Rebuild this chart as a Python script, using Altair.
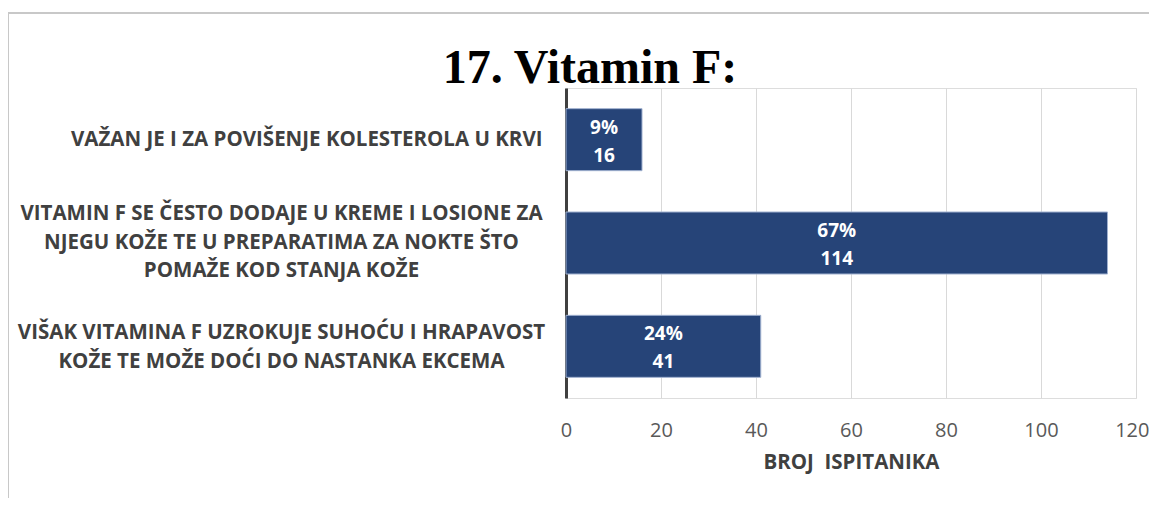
import altair as alt
import pandas as pd

categories = [
    "VAŽAN JE I ZA POVIŠENJE KOLESTEROLA U KRVI",
    "VITAMIN F SE ČESTO DODAJE U KREME I LOSIONE ZA|NJEGU KOŽE TE U PREPARATIMA ZA NOKTE ŠTO|POMAŽE KOD STANJA KOŽE",
    "VIŠAK VITAMINA F UZROKUJE SUHOĆU I HRAPAVOST|KOŽE TE MOŽE DOĆI DO NASTANKA EKCEMA",
]
counts = [16, 114, 41]
percents = ["9%", "67%", "24%"]
x_ticks = [0, 20, 40, 60, 80, 100, 120]
title_text = ["17. Vitamin F:"]

df = pd.DataFrame({"cat": categories, "count": counts, "pct": percents})
tdf = pd.DataFrame({"t": title_text})

FONT = "Open Sans"
BAR = "#264478"
LH = 28.5

single = "indexof(datum.label, '|') < 0"
nlines = "length(split(datum.label, '|'))"
last_tick = "datum.value == 120"

y_enc = alt.Y(
    "cat:N",
    sort=categories,
    scale=alt.Scale(paddingInner=0.4, paddingOuter=0.2),
    axis=alt.Axis(
        title=None,
        labelExpr="split(datum.label, '|')",
        labelFont=FONT,
        labelFontSize=20.5,
        labelFontWeight="bold",
        labelColor="#404040",
        labelLineHeight=LH,
        labelLimit=800,
        ticks=False,
        tickSize=0,
        labelAlign={"condition": {"test": single, "value": "right"}, "value": "center"},
        labelPadding={"condition": {"test": single, "value": 24}, "value": 285},
        labelOffset={
            "condition": [
                {"test": nlines + " == 3", "value": -29},
                {"test": nlines + " == 2", "value": -13},
            ],
            "value": 0,
        },
        domainColor="#404040",
        domainWidth=3,
        grid=False,
    ),
)

x_enc = alt.X(
    "count:Q",
    scale=alt.Scale(domain=[0, 120], nice=False),
    axis=alt.Axis(
        values=x_ticks,
        title="BROJ\u00a0 ISPITANIKA",
        titleFont=FONT,
        titleFontSize=20.5,
        titleFontWeight="bold",
        titleColor="#404040",
        titlePadding=12,
        labelFont=FONT,
        labelFontSize=20,
        labelColor="#595959",
        labelPadding=22,
        labelFlush=False,
        labelAlign={"condition": {"test": last_tick, "value": "right"}, "value": "center"},
        labelOffset={"condition": {"test": last_tick, "value": 13}, "value": 0},
        domain=False,
        ticks=False,
        grid=True,
        gridColor="#d9d9d9",
        gridWidth=1,
    ),
)

bars = alt.Chart(df).mark_bar(color=BAR, stroke="#9fb0cf", strokeWidth=1).encode(
    x=x_enc,
    y=y_enc,
)

labels = (
    alt.Chart(df)
    .transform_calculate(mid="datum.count / 2", txt="datum.pct + '|' + datum.count")
    .mark_text(
        font=FONT,
        fontSize=19,
        fontWeight="bold",
        color="white",
        lineBreak="|",
        lineHeight=28,
        baseline="middle",
        align="center",
        dy=-12,
    )
    .encode(
        x=alt.X("mid:Q"),
        y=alt.Y("cat:N", sort=categories),
        text="txt:N",
    )
)

title = alt.Chart(tdf).mark_text(
    font="Liberation Serif",
    fontSize=48,
    fontWeight="bold",
    color="#000000",
    align="center",
    baseline="alphabetic",
).encode(x=alt.value(24), y=alt.value(-5), text="t:N")

frame_top = alt.Chart(tdf).mark_rule(color="#c8c8c8", strokeWidth=2).encode(
    x=alt.value(-558), x2=alt.value(700), y=alt.value(-75)
)
frame_left = alt.Chart(tdf).mark_rule(color="#c8c8c8", strokeWidth=2).encode(
    x=alt.value(-558), y=alt.value(-75), y2=alt.value(520)
)

chart = (
    alt.layer(frame_top, frame_left, bars, labels, title)
    .properties(
        width=570,
        height=310,
        padding={"left": 558, "top": 80, "right": 13, "bottom": 100},
        autosize=alt.AutoSizeParams(type="none"),
    )
    .configure_view(stroke=None)
    .configure(background="white")
)

chart.save("out.html", embed_options={"renderer": "svg", "actions": False})
